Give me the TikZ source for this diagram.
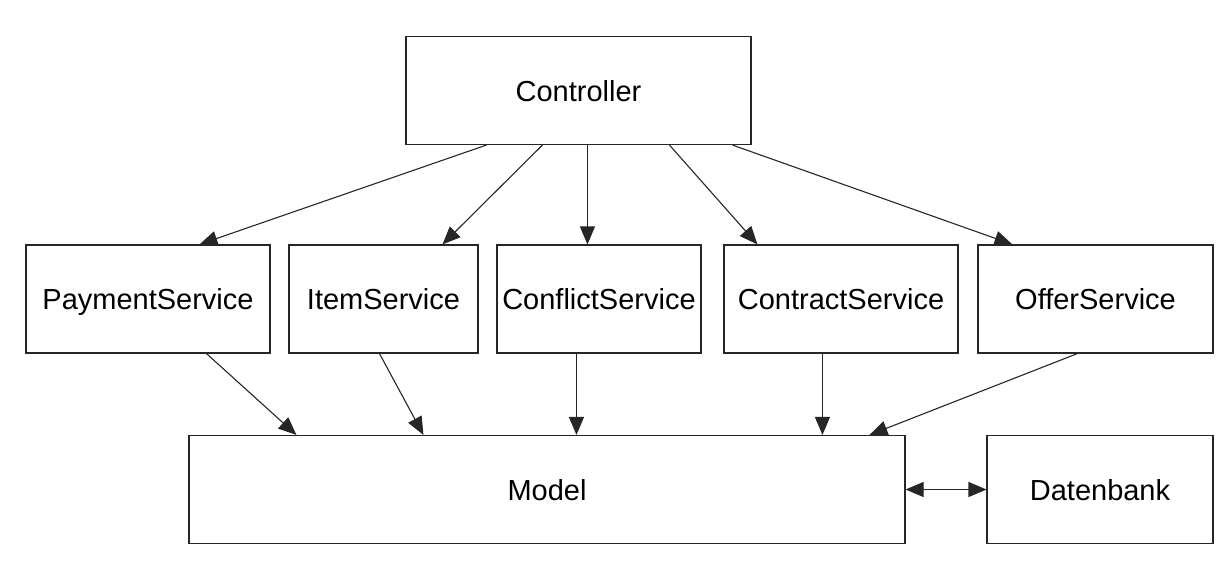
\documentclass[tikz,border=0pt]{standalone}
\usepackage{fontspec}
\setmainfont{Liberation Sans}
\usetikzlibrary{arrows.meta}
\begin{document}
\begin{tikzpicture}[x=1pt,y=-1pt,
  box/.style={draw=black!85,line width=1.1pt,minimum width=#1,minimum height=108pt,inner sep=0pt,text height=25pt,text depth=4pt,font=\fontsize{29}{34}\selectfont},
  arr/.style={draw=black!85,line width=1.1pt,-{Triangle[length=18pt,width=15pt]}},
  darr/.style={draw=black!85,line width=1.1pt,{Triangle[length=18pt,width=15pt]}-{Triangle[length=18pt,width=15pt]}}]
\useasboundingbox (0,0) rectangle (1231,578);
\node[box=345pt] (ctrl) at (578.5,90.5) {Controller};
\node[box=244pt] (pay) at (148,299) {PaymentService};
\node[box=189pt] (item) at (383.5,299) {ItemService};
\node[box=204pt] (conf) at (599,299) {ConflictService};
\node[box=234pt] (contr) at (841,299) {ContractService};
\node[box=235pt] (offer) at (1095.5,299) {OfferService};
\node[box=716pt] (model) at (547,489.5) {Model};
\node[box=226pt] (db) at (1100,489.5) {Datenbank};
\draw[arr] ([xshift=81pt]ctrl.south west) -- ([xshift=174pt]pay.north west);
\draw[arr] ([xshift=137pt]ctrl.south west) -- ([xshift=154pt]item.north west);
\draw[arr] ([xshift=182pt]ctrl.south west) -- ([xshift=91pt]conf.north west);
\draw[arr] ([xshift=264pt]ctrl.south west) -- ([xshift=34pt]contr.north west);
\draw[arr] ([xshift=327pt]ctrl.south west) -- ([xshift=35pt]offer.north west);
\draw[arr] ([xshift=181pt]pay.south west) -- ([xshift=108pt]model.north west);
\draw[arr] ([xshift=91pt]item.south west) -- ([xshift=235pt]model.north west);
\draw[arr] ([xshift=80pt]conf.south west) -- ([xshift=388pt]model.north west);
\draw[arr] ([xshift=99pt]contr.south west) -- ([xshift=634pt]model.north west);
\draw[arr] ([xshift=100pt]offer.south west) -- ([xshift=681pt]model.north west);
\draw[darr] (model.east) -- (db.west);
\end{tikzpicture}
\end{document}
